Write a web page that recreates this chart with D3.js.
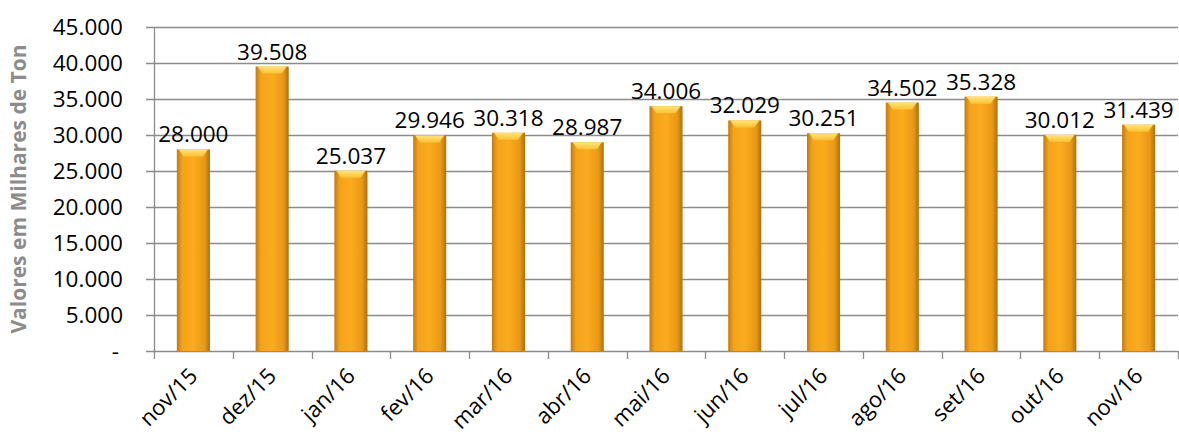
<html>
<head>
<script src="https://d3js.org/d3.v7.min.js"></script>
<style>
    body { margin: 0; background: #fff; }
    text { font-family: 'Open Sans', sans-serif; }
</style>
</head>
<body>
<div id="chart"></div>
<script>
    // data
    var months = ["nov/15","dez/15","jan/16","fev/16","mar/16","abr/16","mai/16","jun/16","jul/16","ago/16","set/16","out/16","nov/16"];
    var values = [28000, 39508, 25037, 29946, 30318, 28987, 34006, 32029, 30251, 34502, 35328, 30012, 31439];
    var yTicks = [0, 5000, 10000, 15000, 20000, 25000, 30000, 35000, 40000, 45000];

    var width = 1179, height = 439;
    var plotL = 154, plotR = 1178, plotT = 27, plotB = 351;

    var fmt = function(v){ return v == 0 ? "-" : d3.format(",")(v).replace(/,/g, "."); };

    var svg = d3.select("#chart").append("svg")
        .attr("width", width)
        .attr("height", height);

    var x = d3.scaleBand().domain(months).range([plotL, plotR]).paddingInner(0.58).paddingOuter(0.29);
    var xb = d3.scaleBand().domain(months).range([plotL, plotR]);
    var y = d3.scaleLinear().domain([0, 45000]).range([plotB, plotT]);

    // gradients for the bevelled bars
    var defs = svg.append("defs");
    var g1 = defs.append("linearGradient").attr("id", "barGrad").attr("x1", 0).attr("x2", 1).attr("y1", 0).attr("y2", 0);
    g1.append("stop").attr("offset", "0%").attr("stop-color", "#c07a10");
    g1.append("stop").attr("offset", "16%").attr("stop-color", "#f4a31a");
    g1.append("stop").attr("offset", "50%").attr("stop-color", "#fbab1d");
    g1.append("stop").attr("offset", "84%").attr("stop-color", "#e99816");
    g1.append("stop").attr("offset", "100%").attr("stop-color", "#ae700f");
    var g2 = defs.append("linearGradient").attr("id", "capGrad").attr("x1", 0).attr("x2", 0).attr("y1", 0).attr("y2", 1);
    g2.append("stop").attr("offset", "0%").attr("stop-color", "#ffe47c");
    g2.append("stop").attr("offset", "100%").attr("stop-color", "#fbc234");

    // gridlines
    svg.append("g")
        .selectAll("line")
        .data(yTicks)
        .enter()
        .append("line")
        .attr("x1", plotL - 8)
        .attr("x2", plotR)
        .attr("y1", function(d){ return Math.round(y(d)) + 0.5; })
        .attr("y2", function(d){ return Math.round(y(d)) + 0.5; })
        .attr("stroke", "#8c8c8c")
        .attr("stroke-width", 1.3);

    // y axis line
    svg.append("line")
        .attr("x1", plotL + 0.5).attr("x2", plotL + 0.5)
        .attr("y1", plotT).attr("y2", plotB)
        .attr("stroke", "#8c8c8c").attr("stroke-width", 1.3);

    // x tick marks at category boundaries
    var bounds = months.map(function(m){ return xb(m); }).concat([plotR]);
    svg.append("g")
        .selectAll("line")
        .data(bounds)
        .enter()
        .append("line")
        .attr("x1", function(d){ return Math.round(d) + 0.5; })
        .attr("x2", function(d){ return Math.round(d) + 0.5; })
        .attr("y1", plotB)
        .attr("y2", plotB + 8)
        .attr("stroke", "#8c8c8c")
        .attr("stroke-width", 1.3);

    // y tick labels
    svg.append("g")
        .selectAll("text")
        .data(yTicks)
        .enter()
        .append("text")
        .attr("x", function(d){ return d == 0 ? 119 : 123; })
        .attr("y", function(d){ return y(d); })
        .attr("dy", "0.36em")
        .attr("text-anchor", "end")
        .attr("font-size", 22.5)
        .attr("fill", "#000")
        .text(fmt);

    // bars
    var bars = svg.append("g");
    bars.selectAll("rect.bar")
        .data(values)
        .enter()
        .append("rect")
        .attr("class", "bar")
        .attr("x", function(d, i){ return x(months[i]); })
        .attr("y", function(d){ return y(d); })
        .attr("width", x.bandwidth())
        .attr("height", function(d){ return y(0) - y(d); })
        .attr("fill", "url(#barGrad)");
    // bevel cap
    bars.selectAll("path.cap")
        .data(values)
        .enter()
        .append("path")
        .attr("class", "cap")
        .attr("d", function(d, i){
            var x0 = x(months[i]), w = x.bandwidth(), t = y(d), b = 7;
            return "M" + (x0 + 2) + "," + t + "H" + (x0 + w - 2) + "L" + (x0 + w - b) + "," + (t + b) + "H" + (x0 + b) + "Z";
        })
        .attr("fill", "url(#capGrad)");

    // value labels
    svg.append("g")
        .selectAll("text")
        .data(values)
        .enter()
        .append("text")
        .attr("x", function(d, i){ return x(months[i]) + x.bandwidth() / 2; })
        .attr("y", function(d){ return y(d) - 7; })
        .attr("text-anchor", "middle")
        .attr("font-size", 22.5)
        .attr("fill", "#000")
        .text(fmt);

    // x labels rotated
    svg.append("g")
        .selectAll("text")
        .data(months)
        .enter()
        .append("text")
        .attr("transform", function(d){ return "translate(" + (x(d) + x.bandwidth() / 2) + "," + (plotB + 21) + ") rotate(-45)"; })
        .attr("text-anchor", "end")
        .attr("dy", "0.35em")
        .attr("font-size", 22)
        .attr("fill", "#000")
        .text(function(d){ return d; });

    // y axis title
    svg.append("text")
        .attr("transform", "translate(26,189) rotate(-90)")
        .attr("text-anchor", "middle")
        .attr("font-size", 21)
        .attr("font-weight", "bold")
        .attr("fill", "#8c8c8c")
        .text("Valores em Milhares de Ton");
</script>
</body>
</html>
